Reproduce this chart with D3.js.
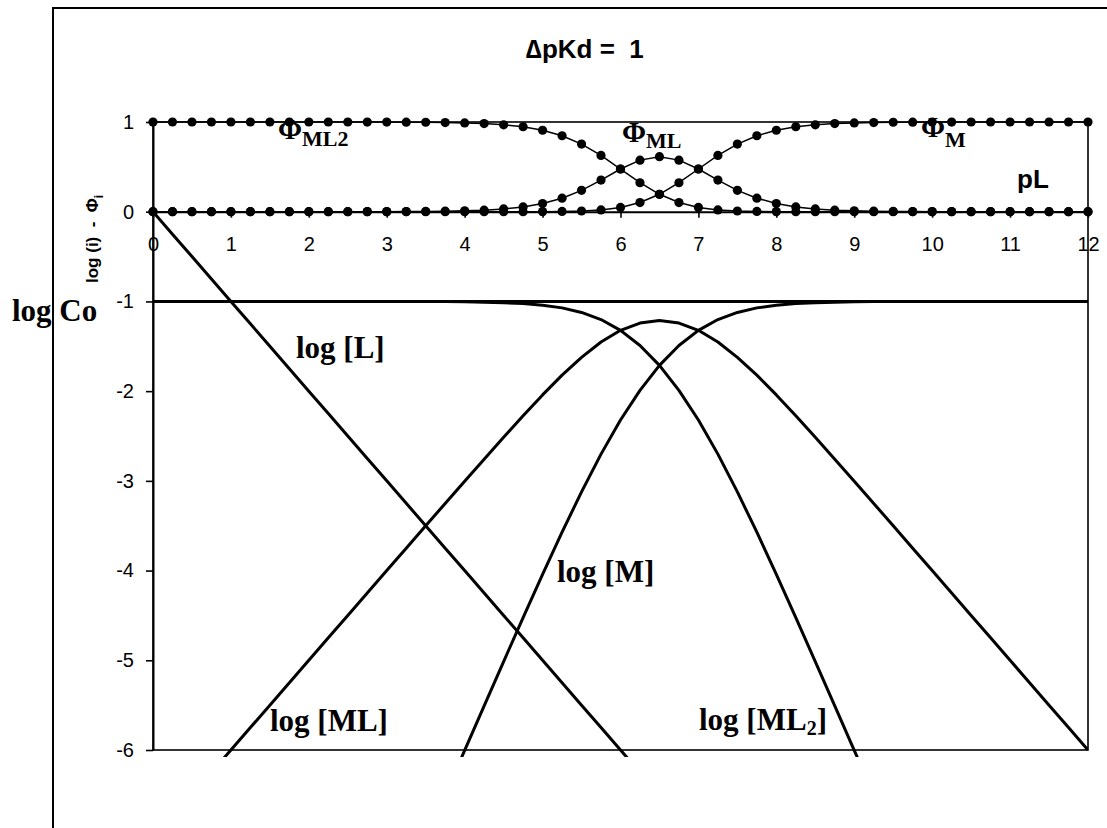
<!DOCTYPE html>
<html>
<head>
<meta charset="utf-8">
<script src="https://cdn.jsdelivr.net/npm/d3@7"></script>
<style>
  html, body { margin: 0; padding: 0; background: #fff; }
  svg { display: block; }
  .tick text { font-family: "Liberation Sans", Arial, sans-serif; font-size: 20px; fill: #000; }
</style>
</head>
<body>
<svg id="chart" width="1107" height="828"></svg>
<script>
// pL grid (step 0.25)
const pL = [0,0.25,0.5,0.75,1,1.25,1.5,1.75,2,2.25,2.5,2.75,3,3.25,3.5,3.75,4,4.25,4.5,4.75,5,5.25,5.5,5.75,6,6.25,6.5,6.75,7,7.25,7.5,7.75,8,8.25,8.5,8.75,9,9.25,9.5,9.75,10,10.25,10.5,10.75,11,11.25,11.5,11.75,12];

// Fractions Φ of each species
const phiML2 = [1,1,1,1,1,1,1,1,1,1,1,0.999,0.999,0.998,0.997,0.994,0.990,0.983,0.969,0.947,0.908,0.847,0.754,0.627,0.476,0.323,0.194,0.102,0.048,0.020,0.008,0.003,0.001,0,0,0,0,0,0,0,0,0,0,0,0,0,0,0,0];
const phiML  = [0,0,0,0,0,0,0,0,0,0,0,0.001,0.001,0.002,0.003,0.006,0.010,0.017,0.031,0.053,0.091,0.151,0.238,0.353,0.476,0.575,0.613,0.575,0.476,0.353,0.238,0.151,0.091,0.053,0.031,0.017,0.010,0.006,0.003,0.002,0.001,0.001,0,0,0,0,0,0,0];
const phiM   = [0,0,0,0,0,0,0,0,0,0,0,0,0,0,0,0,0,0,0,0,0.001,0.003,0.008,0.020,0.048,0.102,0.194,0.323,0.476,0.627,0.754,0.847,0.908,0.947,0.969,0.983,0.990,0.994,0.997,0.998,0.999,0.999,1,1,1,1,1,1,1];

// Logarithmic concentrations
const logL   = [0,-0.25,-0.5,-0.75,-1,-1.25,-1.5,-1.75,-2,-2.25,-2.5,-2.75,-3,-3.25,-3.5,-3.75,-4,-4.25,-4.5,-4.75,-5,-5.25,-5.5,-5.75,-6,-6.25,-6.5,-6.75,-7,-7.25,-7.5,-7.75,-8,-8.25,-8.5,-8.75,-9,-9.25,-9.5,-9.75,-10,-10.25,-10.5,-10.75,-11,-11.25,-11.5,-11.75,-12];
const logM   = [-14,-13.5,-13,-12.5,-12,-11.5,-11,-10.5,-10,-9.5,-9,-8.5,-8,-7.501,-7.001,-6.502,-6.004,-5.508,-5.014,-4.524,-4.042,-3.572,-3.123,-2.702,-2.322,-1.991,-1.713,-1.491,-1.322,-1.202,-1.123,-1.072,-1.042,-1.024,-1.014,-1.008,-1.004,-1.002,-1.001,-1.001,-1,-1,-1,-1,-1,-1,-1,-1,-1];
const logML  = [-7,-6.75,-6.5,-6.25,-6,-5.75,-5.5,-5.25,-5,-4.75,-4.5,-4.25,-4,-3.751,-3.501,-3.252,-3.004,-2.758,-2.514,-2.274,-2.042,-1.822,-1.623,-1.452,-1.322,-1.241,-1.213,-1.241,-1.322,-1.452,-1.623,-1.822,-2.042,-2.274,-2.514,-2.758,-3.004,-3.252,-3.501,-3.751,-4,-4.25,-4.5,-4.75,-5,-5.25,-5.5,-5.75,-6];
const logML2 = [-1,-1,-1,-1,-1,-1,-1,-1,-1,-1,-1,-1,-1,-1.001,-1.001,-1.002,-1.004,-1.008,-1.014,-1.024,-1.042,-1.072,-1.123,-1.202,-1.322,-1.491,-1.713,-1.991,-2.322,-2.702,-3.123,-3.572,-4.042,-4.524,-5.014,-5.508,-6.004,-6.502,-7.001,-7.501,-8,-8.5,-9,-9.5,-10,-10.5,-11,-11.5,-12];
const logCo = -1;

// Axis ticks
const xTicks = [0,1,2,3,4,5,6,7,8,9,10,11,12];
const yTicks = [-6,-5,-4,-3,-2,-1,0,1];

const svg = d3.select("#chart");
const x = d3.scaleLinear().domain([0, 12]).range([153, 1088]);
const y = d3.scaleLinear().domain([-6, 1]).range([750, 122]);

const SANS = "'Liberation Sans', Arial, sans-serif";
const SERIF = "'Liberation Serif', 'Times New Roman', serif";

// Outer chart frame
svg.append("rect")
  .attr("x", 53).attr("y", 8)
  .attr("width", 1107 - 53 + 20).attr("height", 828)
  .attr("fill", "none").attr("stroke", "#000").attr("stroke-width", 2);

// Plot area border
svg.append("rect")
  .attr("x", x(0)).attr("y", y(1))
  .attr("width", x(12) - x(0)).attr("height", y(-6) - y(1))
  .attr("fill", "none").attr("stroke", "#000").attr("stroke-width", 1.6);

svg.append("clipPath").attr("id", "plotClip")
  .append("rect")
  .attr("x", x(0)).attr("y", 0)
  .attr("width", x(12) - x(0)).attr("height", y(-6) + 7);

const line = d3.line().x((d, i) => x(pL[i])).y(d => y(d));

// Fraction curves with markers
const phiSeries = [phiML2, phiML, phiM];
const phiG = svg.append("g");
phiSeries.forEach(s => {
  phiG.append("path").attr("d", line(s))
    .attr("fill", "none").attr("stroke", "#000").attr("stroke-width", 1.5);
});
phiSeries.forEach(s => {
  phiG.selectAll(null).data(s).enter().append("circle")
    .attr("cx", (d, i) => x(pL[i])).attr("cy", d => y(d))
    .attr("r", 4.6).attr("fill", "#000");
});

// Log concentration curves
const logG = svg.append("g").attr("clip-path", "url(#plotClip)");
logG.append("path").attr("d", d3.line()([[x(0), y(logCo)], [x(12), y(logCo)]]))
  .attr("fill", "none").attr("stroke", "#000").attr("stroke-width", 3);
[logL, logM, logML, logML2].forEach(s => {
  logG.append("path").attr("d", line(s))
    .attr("fill", "none").attr("stroke", "#000").attr("stroke-width", 3)
    .attr("stroke-linejoin", "round");
});

// Y axis
const yAxis = svg.append("g").attr("transform", `translate(${x(0)},0)`)
  .call(d3.axisLeft(y).tickValues(yTicks).tickFormat(d => String(d))
        .tickSize(7).tickSizeOuter(0).tickPadding(12));
yAxis.select(".domain").attr("stroke-width", 2);
yAxis.selectAll(".tick line").attr("stroke-width", 1.6);

// X axis along the zero line
const xAxis = svg.append("g").attr("transform", `translate(0,${y(0)})`)
  .call(d3.axisBottom(x).tickValues(xTicks).tickFormat(d => String(d))
        .tickSize(6).tickSizeOuter(0).tickPadding(19));
xAxis.select(".domain").attr("stroke-width", 2);
xAxis.selectAll(".tick line").attr("stroke-width", 1.6);

// Title
svg.append("text").attr("x", 526).attr("y", 58)
  .attr("font-family", SANS).attr("font-weight", "bold").attr("font-size", 26)
  .style("white-space", "pre")
  .text("\u2206pKd =  1");

// Axis titles
svg.append("text").attr("x", 1017).attr("y", 188)
  .attr("font-family", SANS).attr("font-weight", "bold").attr("font-size", 26)
  .text("pL");

const yt = svg.append("text")
  .attr("transform", "translate(98,283) rotate(-90)")
  .attr("font-family", SANS).attr("font-weight", "bold").attr("font-size", 17)
  .style("white-space", "pre");
yt.append("tspan").text("log (i)  -  \u03A6");
yt.append("tspan").attr("dy", 5).attr("font-size", 12).text("i");

// Φ labels
function phiLabel(px, py, sub, subDy) {
  const t = svg.append("text").attr("x", px).attr("y", py)
    .attr("font-family", SERIF).attr("font-weight", "bold");
  t.append("tspan").attr("font-size", 29).text("\u03A6");
  t.append("tspan").attr("dy", subDy).attr("font-size", 22).text(sub);
}
phiLabel(278, 139, "ML2", 7);
phiLabel(622, 142, "ML", 6);
phiLabel(921, 137, "M", 10);

// Species labels
function serifLabel(px, py, parts) {
  const t = svg.append("text").attr("x", px).attr("y", py)
    .attr("font-family", SERIF).attr("font-weight", "bold").attr("font-size", 31)
    .style("white-space", "pre");
  parts.forEach(p => {
    const s = t.append("tspan").text(p.t);
    if (p.sub) s.attr("font-size", 20).attr("dy", 5);
    if (p.back) s.attr("dy", -5);
  });
}
serifLabel(12, 321, [{t: "log Co"}]);
serifLabel(296, 358, [{t: "log [L]"}]);
serifLabel(557, 582, [{t: "log [M]"}]);
serifLabel(270, 731, [{t: "log [ML]"}]);
serifLabel(699, 730, [{t: "log [ML"}, {t: "2", sub: true}, {t: "]", back: true}]);
</script>
</body>
</html>
